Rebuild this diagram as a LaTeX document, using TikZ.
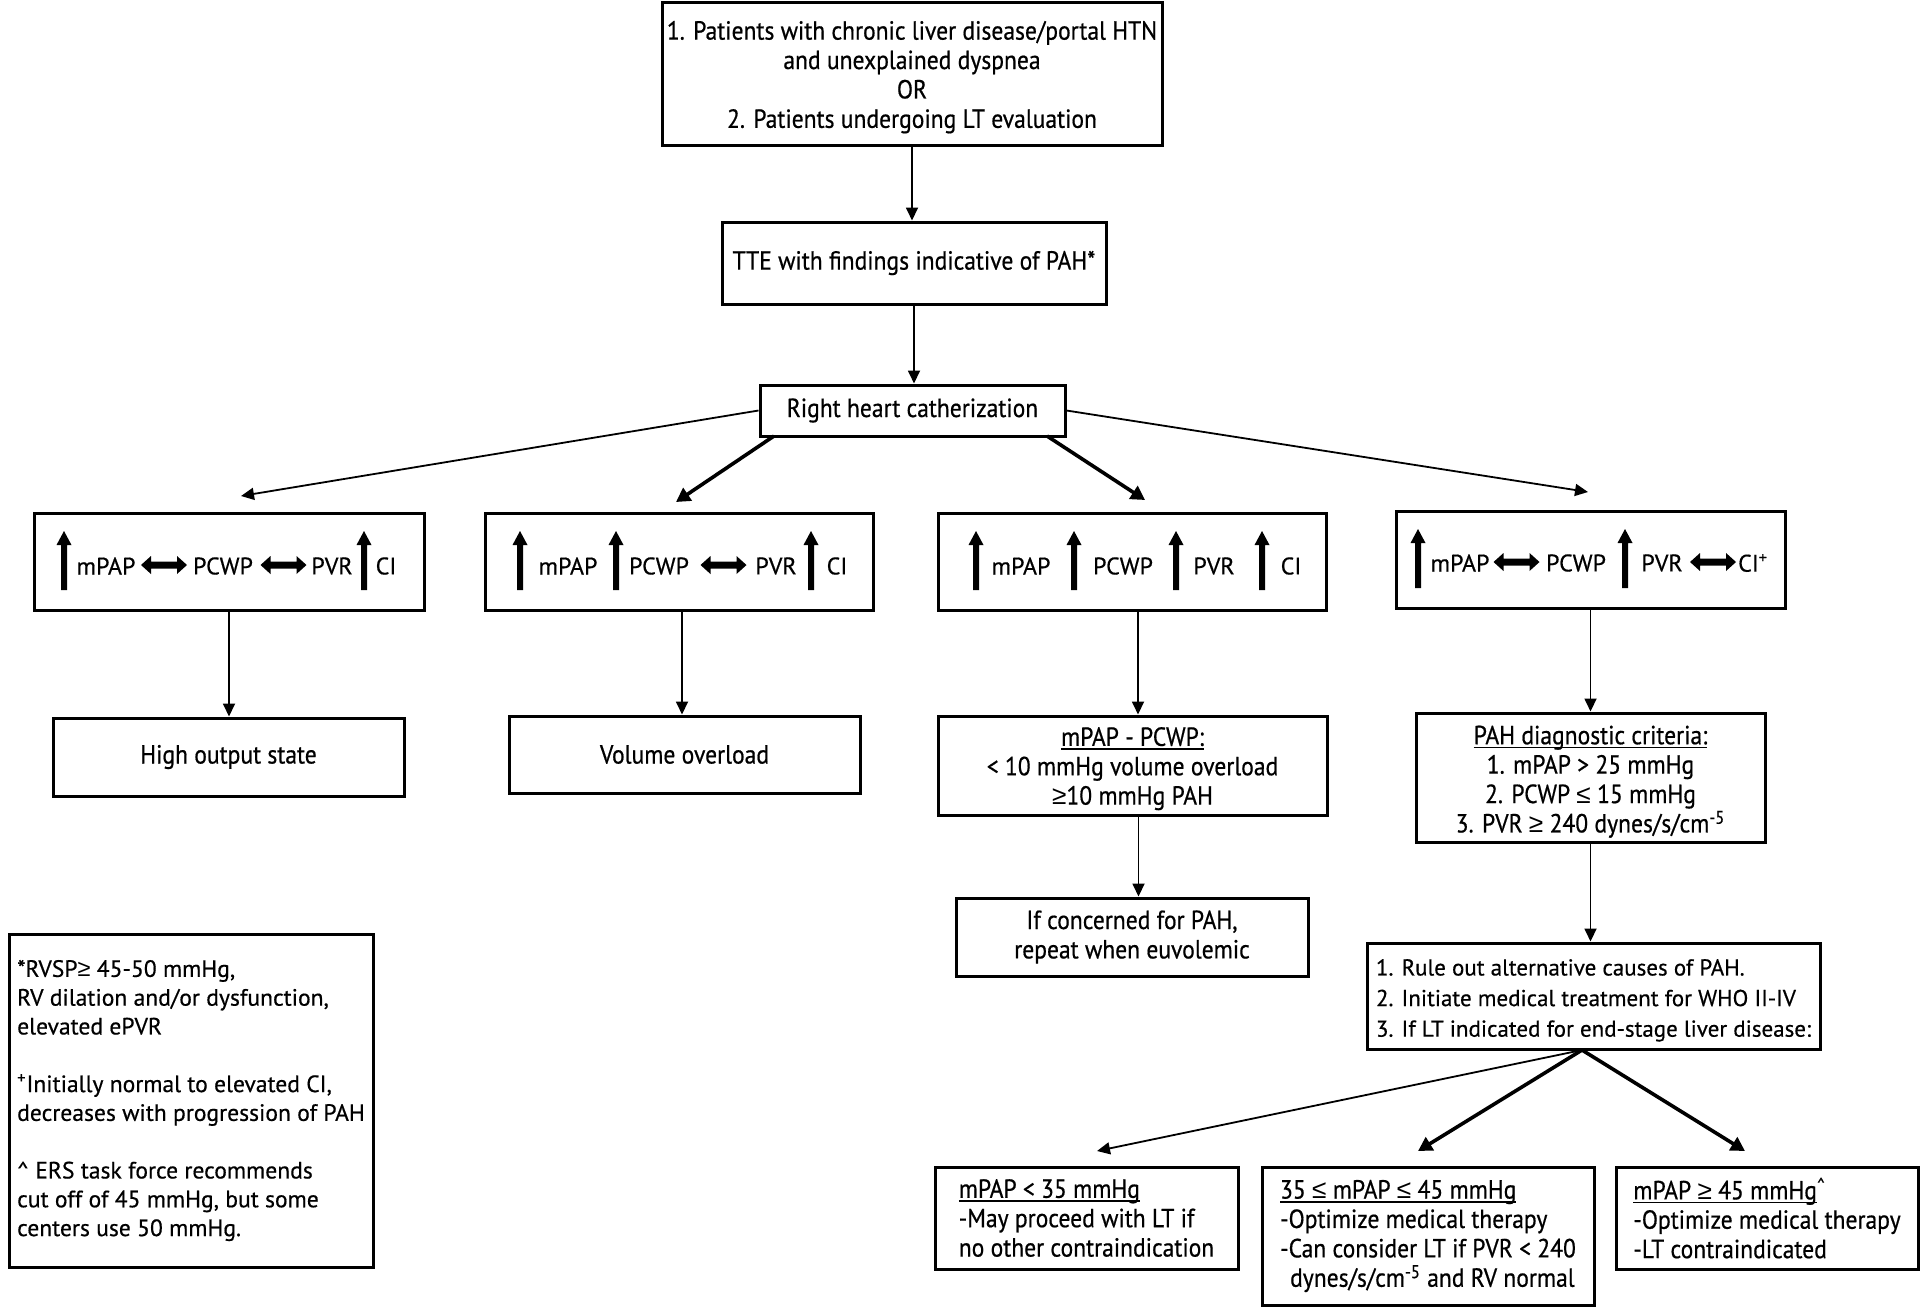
\documentclass[tikz,border=0pt]{standalone}
\usepackage{fontspec}
\setmainfont{PT Sans}[FakeBold=0.5]
\newfontfamily\condf[FakeStretch=0.9,FakeBold=0.6]{PT Sans}
\newfontfamily\symf{Liberation Sans}
\usetikzlibrary{arrows.meta,calc}
\newcommand\myC{\condf\fontsize{13.1}{14.7}\selectfont}
\newcommand\myN{\fontsize{11.8}{14.4}\selectfont}
\newcommand\myR{\fontsize{11.5}{15.3}\selectfont}
\newcommand\mle{{\symf\char"2264}}
\newcommand\mge{{\symf\char"2265}}
\newcommand\uln[1]{\setbox0\hbox{#1}\rlap{\rule[-2pt]{\wd0}{0.7pt}}\box0}
\begin{document}
\begin{tikzpicture}[x=0.5pt,y=-0.5pt,
  box/.style n args={2}{draw,line width=1.5pt,inner sep=0pt,minimum width=#1*0.5pt,minimum height=#2*0.5pt,align=center,font=\myC},
  lbox/.style n args={2}{box={#1}{#2},align=left},
  lab/.style={inner sep=0pt,font=\fontsize{12}{14}\selectfont},
  tarr/.style={line width=0.9pt,-{Triangle[length=6.5pt,width=6pt]}},
  karr/.style={line width=1.8pt,-{Triangle[length=7pt,width=7.5pt]}},
  pics/uarr/.style={code={\fill (-3,29) -- (-3,-16) -- (-7.5,-16) -- (0,-30) -- (7.5,-16) -- (3,-16) -- (3,29) -- cycle;}},
  pics/darr/.style={code={\fill (-23,0) -- (-13,-9) -- (-13,-3.5) -- (13,-3.5) -- (13,-9) -- (23,0) -- (13,9) -- (13,3.5) -- (-13,3.5) -- (-13,9) -- cycle;}},
]
\useasboundingbox (0,0) rectangle (1920,1308);

% main flow
\node[box={500}{143}] (top) at (912,73.5) {\rule{0pt}{13pt}1. Patients with chronic liver disease/portal HTN\\and unexplained dyspnea\\OR\\2. Patients undergoing LT evaluation};
\node[box={384}{82}] (tte) at (914,263) {TTE with findings indicative of PAH*};
\node[box={305}{51}] (rhc) at (912.5,410.5) {Right heart catherization};

% haemodynamic boxes
\node[box={390}{97}] (b1) at (229,561.5) {};
\node[box={388}{97}] (b2) at (679,561.5) {};
\node[box={388}{97}] (b3) at (1132,561.5) {};
\node[box={389}{97}] (b4) at (1590.5,559.5) {};

% box 1
\pic at (64,561) {uarr};
\node[lab] (b1a) at (106,566) {mPAP};
\pic at (164,565) {darr};
\node[lab] (b1b) at (223,566) {PCWP};
\pic at (283.5,565) {darr};
\node[lab] (b1c) at (332,566) {PVR};
\pic at (364,561) {uarr};
\node[lab] (b1d) at (386,566) {CI};
% box 2
\pic at (520,561) {uarr};
\node[lab] (b2a) at (568,566) {mPAP};
\pic at (616,561) {uarr};
\node[lab] (b2b) at (659,566) {PCWP};
\pic at (723.5,565) {darr};
\node[lab] (b2c) at (776,566) {PVR};
\pic at (811,561) {uarr};
\node[lab] (b2d) at (837,566) {CI};
% box 3
\pic at (976,561) {uarr};
\node[lab] (b3a) at (1021,566) {mPAP};
\pic at (1074,561) {uarr};
\node[lab] (b3b) at (1123,566) {PCWP};
\pic at (1176,561) {uarr};
\node[lab] (b3c) at (1214,566) {PVR};
\pic at (1262,561) {uarr};
\node[lab] (b3d) at (1291,566) {CI};
% box 4
\pic at (1418,559) {uarr};
\node[lab] (b4a) at (1460,563) {mPAP};
\pic at (1516.5,562) {darr};
\node[lab] (b4b) at (1576,563) {PCWP};
\pic at (1625,559) {uarr};
\node[lab] (b4c) at (1662,563) {PVR};
\pic at (1713,562) {darr};
\node[lab] (b4d) at (1753,563) {CI\textsuperscript{+}};

% second row
\node[box={351}{78}] (ho) at (228.5,757) {High output state};
\node[box={351}{77}] (vo) at (684.5,754.5) {Volume overload};
\node[box={389}{99}] (mp) at (1132.5,765.5) {\rule{0pt}{12.5pt}\uln{mPAP - PCWP:}\\< 10 mmHg volume overload\\\mge10 mmHg PAH};
\node[box={349}{129}] (pd) at (1590.5,777.5) {\rule{0pt}{13.5pt}\uln{PAH diagnostic criteria:}\\1. mPAP > 25 mmHg\\2. PCWP \mle{} 15 mmHg\\3. PVR \mge{} 240 dynes/s/cm\textsuperscript{-5}};

% third row
\node[box={352}{78}] (ic) at (1132,937) {If concerned for PAH,\\repeat when euvolemic};
\node[lbox={453}{106},font=\myR] (ro) at (1593.5,996) {\rule{0pt}{12.5pt}1. Rule out alternative causes of PAH.\\2. Initiate medical treatment for WHO II-IV\\3. If LT indicated for end-stage liver disease:};

% fourth row
\node[lbox={303}{102}] (l4) at (1086.5,1218) {\uln{mPAP < 35 mmHg}\\-May proceed with LT if\\no other contraindication};
\node[lbox={332}{138}] (m4) at (1428,1236) {\uln{35 \mle{} mPAP \mle{} 45 mmHg}\\-Optimize medical therapy\\-Can consider LT if PVR < 240\\\hspace*{5pt}dynes/s/cm\textsuperscript{-5} and RV normal};
\node[lbox={302}{102}] (r4) at (1767,1218) {\uln{mPAP \mge{} 45 mmHg}\textsuperscript{\textasciicircum}\\-Optimize medical therapy\\-LT contraindicated};

% footnote
\node[lbox={364}{333},font=\myN] (fn) at (191,1100.5) {*RVSP\mge{} 45-50 mmHg,\\RV dilation and/or dysfunction,\\elevated ePVR\\[\baselineskip]\textsuperscript{+}Initially normal to elevated CI,\\decreases with progression of PAH\\[\baselineskip]\textasciicircum{} ERS task force recommends\\cut off of 45 mmHg, but some\\centers use 50 mmHg.};

% connectors
\draw[tarr] (top.south) -- (top.south |- tte.north);
\draw[tarr] (tte.south) -- (tte.south |- rhc.north);
\coordinate (e1) at (241,496);
\coordinate (s2) at (774,436);
\coordinate (e2) at (676,502);
\coordinate (s3) at (1047,436);
\coordinate (e3) at (1145,500);
\coordinate (e4) at (1588,492);
\draw[tarr] (rhc.west) -- (e1);
\draw[karr] (s2) -- (e2);
\draw[karr] (s3) -- (e3);
\draw[tarr] (rhc.east) -- (e4);

\draw[tarr] (b1.south) -- (b1.south |- ho.north);
\draw[tarr] ([xshift=1.5pt]b2.south) -- ([xshift=1.5pt]b2.south |- vo.north);
\draw[tarr] ([xshift=3pt]b3.south) -- ([xshift=3pt]b3.south |- mp.north);
\draw[tarr] (b4.south) -- (b4.south |- pd.north);
\draw[tarr] ([xshift=3pt]mp.south) -- ([xshift=3pt]mp.south |- ic.north);
\draw[tarr] (pd.south) -- (pd.south |- ro.north);

\coordinate (s5) at (1582,1050);
\coordinate (e5) at (1097,1151);
\coordinate (e6) at (1418,1151);
\coordinate (e7) at (1745,1151);
\draw[tarr] (s5) -- (e5);
\draw[karr] (s5) -- (e6);
\draw[karr] (s5) -- (e7);
\end{tikzpicture}
\end{document}
